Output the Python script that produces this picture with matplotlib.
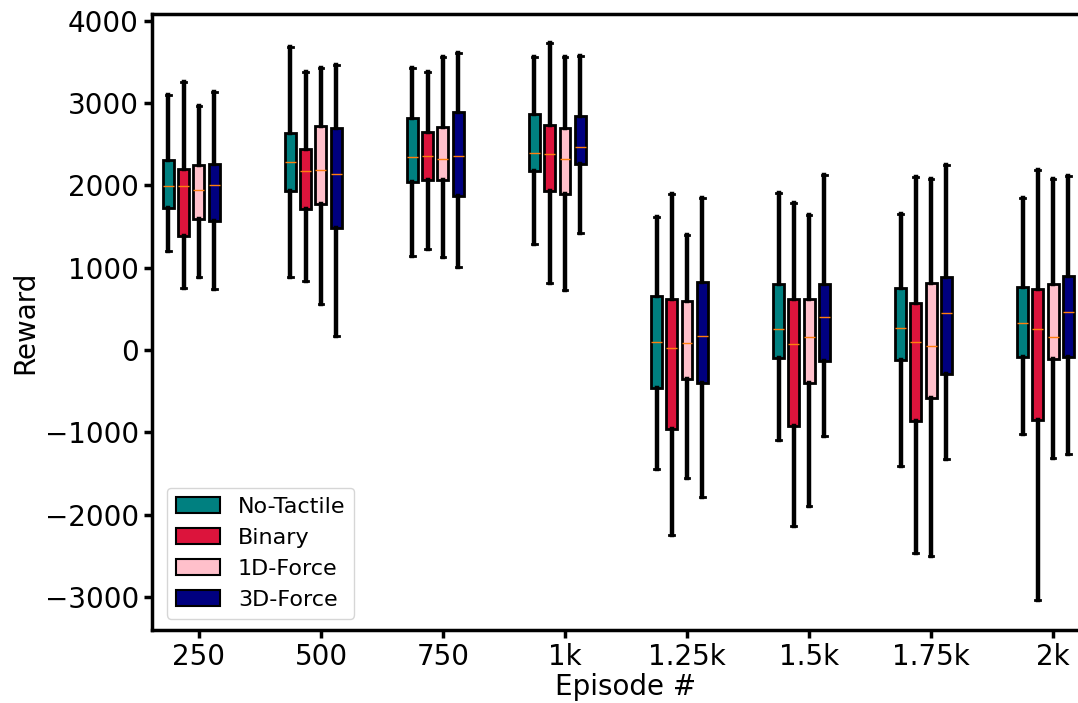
import numpy as np
import matplotlib.pyplot as plt
from matplotlib.patches import Patch

episodes = ['250', '500', '750', '1k', '1.25k', '1.5k', '1.75k', '2k']
methods = ['No-Tactile', 'Binary', '1D-Force', '3D-Force']
colors = ['teal', 'crimson', 'pink', 'navy']

# per method: rows = episodes, columns = whisker low, q1, median, q3, whisker high
no_tactile = [
    [1208, 1724, 1997, 2311, 3093],
    [886, 1925, 2283, 2634, 3677],
    [1139, 2042, 2347, 2815, 3423],
    [1293, 2171, 2388, 2860, 3552],
    [-1450, -459, 100, 656, 1615],
    [-1091, -100, 254, 797, 1905],
    [-1414, -117, 266, 753, 1651],
    [-1023, -85, 326, 765, 1845],
]
binary = [
    [749, 1386, 1997, 2203, 3250],
    [834, 1716, 2171, 2437, 3371],
    [1232, 2066, 2359, 2642, 3379],
    [809, 1933, 2376, 2727, 3733],
    [-2247, -963, 28, 620, 1900],
    [-2138, -926, 72, 620, 1784],
    [-2465, -862, 100, 571, 2102],
    [-3036, -854, 254, 745, 2183],
]
force_1d = [
    [886, 1595, 1941, 2251, 2964],
    [564, 1772, 2183, 2715, 3428],
    [1127, 2070, 2323, 2703, 3556],
    [725, 1897, 2323, 2698, 3556],
    [-1559, -350, 81, 592, 1401],
    [-1897, -403, 153, 620, 1639],
    [-2501, -580, 52, 818, 2082],
    [-1313, -105, 153, 806, 2074],
]
force_3d = [
    [741, 1563, 2002, 2259, 3129],
    [170, 1482, 2135, 2698, 3455],
    [1006, 1869, 2359, 2896, 3609],
    [1426, 2256, 2468, 2843, 3568],
    [-1780, -395, 169, 825, 1848],
    [-1043, -133, 395, 801, 2123],
    [-1329, -290, 455, 890, 2251],
    [-1265, -88, 459, 902, 2118],
]
all_data = [no_tactile, binary, force_1d, force_3d]

fig = plt.figure(figsize=(10.78, 7.03), dpi=100)
ax = fig.add_axes([152 / 1078, 73 / 703, 948 / 1078, 616 / 703])

offsets = [-0.25, -0.125, 0.0, 0.125]
x = np.arange(1, len(episodes) + 1)

for j, data in enumerate(all_data):
    stats = []
    for row in data:
        lo, q1, med, q3, hi = row
        stats.append({'whislo': lo, 'q1': q1, 'med': med, 'q3': q3, 'whishi': hi, 'fliers': []})
    ax.bxp(stats, positions=x + offsets[j], widths=0.09, patch_artist=True,
           showfliers=False, capwidths=0.04,
           boxprops=dict(facecolor=colors[j], edgecolor='black', linewidth=2),
           whiskerprops=dict(color='black', linewidth=3.2),
           capprops=dict(color='black', linewidth=2),
           medianprops=dict(color='tab:orange', linewidth=1))

ax.set_xticks(x)
ax.set_xticklabels(episodes)
ax.set_xlim(0.615, 8.385)
ax.set_ylim(-3400, 4080)
ax.set_yticks([-3000, -2000, -1000, 0, 1000, 2000, 3000, 4000])

for s in ax.spines.values():
    s.set_linewidth(2.5)
ax.tick_params(labelsize=20, width=2.5, length=6)
ax.set_xlabel('Episode #', fontsize=20, labelpad=1)
ax.set_ylabel('Reward', fontsize=20)

handles = [Patch(facecolor=c, edgecolor='black', linewidth=1.5, label=m) for c, m in zip(colors, methods)]
ax.legend(handles=handles, loc='lower left', fontsize=16, bbox_to_anchor=(0.004, 0.0))

fig.savefig('out.png', dpi=100)
